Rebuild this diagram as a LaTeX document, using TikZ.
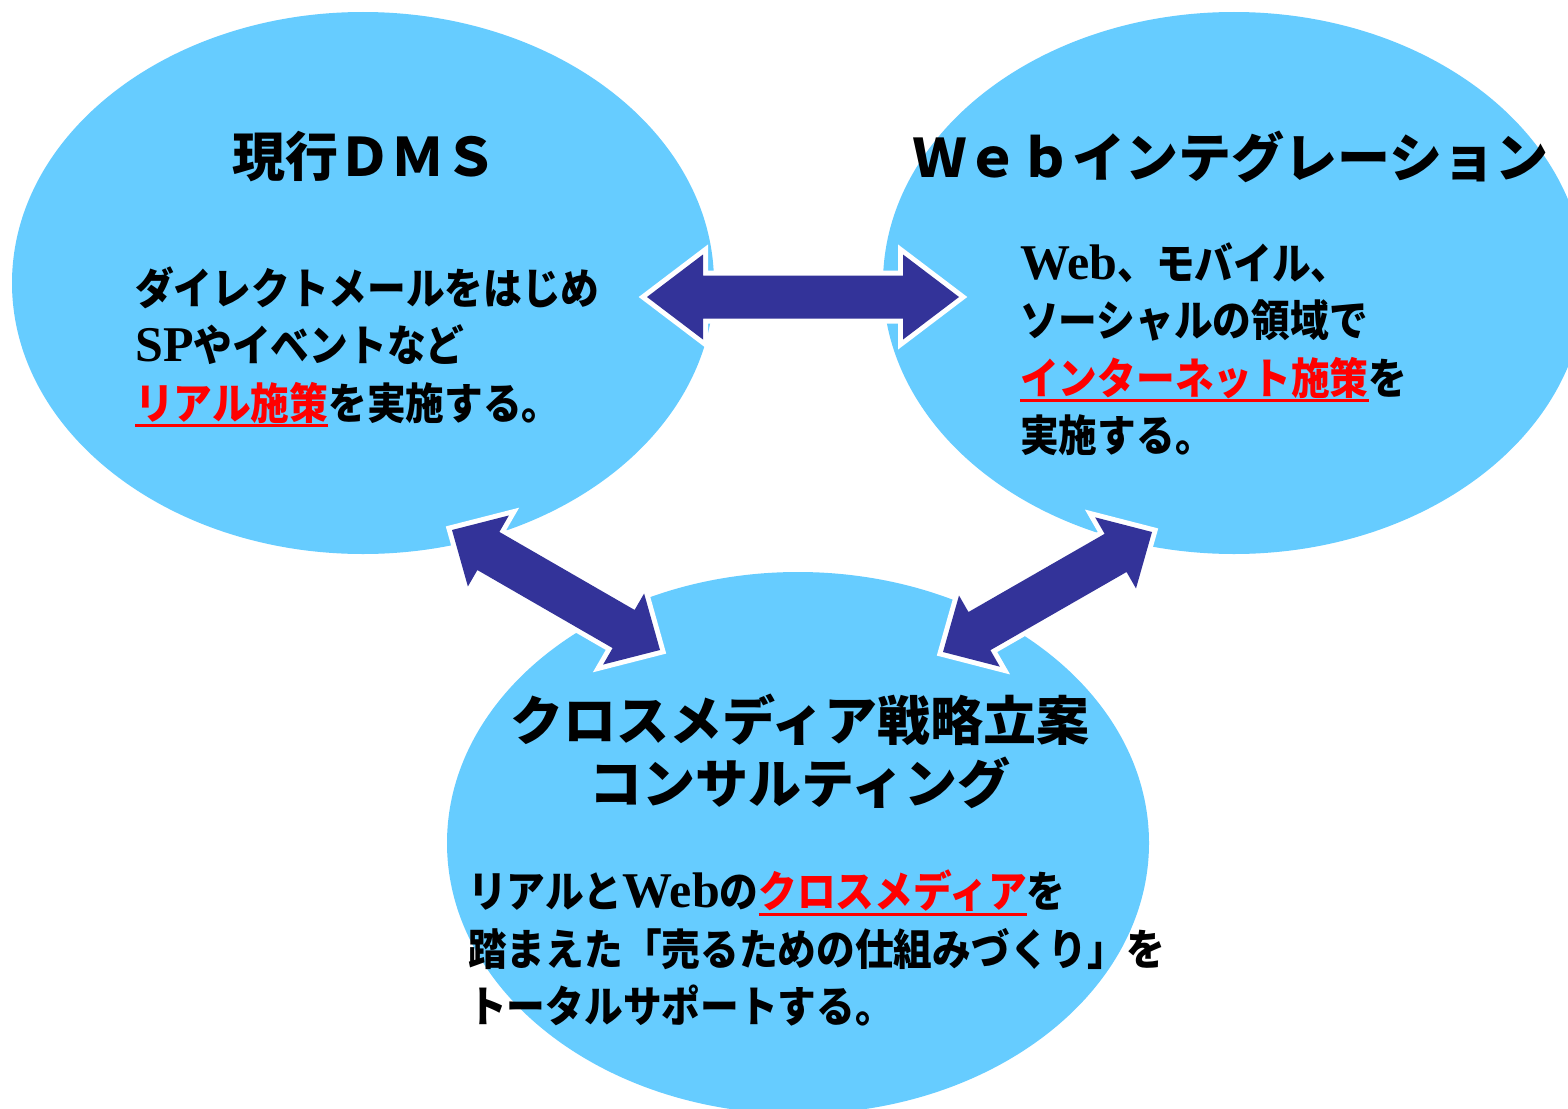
\documentclass[tikz,border=0pt]{standalone}
\usepackage{fontspec}
\usetikzlibrary{shapes.geometric,calc}
\newfontfamily\jp{Noto Sans CJK JP Black}
\newfontfamily\jpb{Noto Sans CJK JP Black}[FakeStretch=0.9]
\newfontfamily\lat{Liberation Serif}
\definecolor{skyfill}{HTML}{66CCFF}
\definecolor{arrowblue}{HTML}{333399}
\definecolor{ulred}{HTML}{FF0000}
\newcommand\LW[1]{{\lat\bfseries\fontsize{50}{57.5}\selectfont #1}}
\newcommand\redul[1]{{\color{ulred}\setbox0\hbox{#1}\rlap{\rule[-8pt]{\wd0}{3pt}}\box0}}
% #1 start, #2 end, #3 head length, #4 head half width, #5 shaft half width
\newcommand\fatdblarrow[5]{%
  \coordinate (pa) at ($(#1)!#3!(#2)$);
  \coordinate (pb) at ($(#2)!#3!(#1)$);
  \path[bigarrow] (#1) -- ($(pa)!#4!90:(#1)$) -- ($(pa)!#5!90:(#1)$)
    -- ($(pb)!#5!-90:(#2)$) -- ($(pb)!#4!-90:(#2)$) -- (#2)
    -- ($(pb)!#4!90:(#2)$) -- ($(pb)!#5!90:(#2)$)
    -- ($(pa)!#5!-90:(#1)$) -- ($(pa)!#4!-90:(#1)$) -- cycle;
}
\tikzset{
  blob/.style={ellipse, fill=skyfill, minimum width=702pt, minimum height=542pt, inner sep=0pt},
  ttl/.style={inner sep=0pt, font=\jp\fontsize{53}{63}\selectfont},
  body/.style={inner sep=0pt, align=left, anchor=west, font=\jpb\fontsize{43}{57.5}\selectfont},
  bigarrow/.style={fill=arrowblue, preaction={draw=white, line width=10pt, line join=miter}}
}
\begin{document}
\begin{tikzpicture}[x=1pt,y=-1pt]
\useasboundingbox (0,0) rectangle (1568,1108);
\clip (0,0) rectangle (1568,1108);
\fill[white] (0,0) rectangle (1568,1108);
% ellipses
\node[blob] (dms) at (363,283) {};
\node[blob] (web) at (1234,283) {};
\node[blob] (cross) at (798,843) {};
% titles
\node[ttl, anchor=west] (dmsT) at (232,157) {現行ＤＭＳ};
\node[ttl, anchor=west] (webT) at (913,157) {Ｗｅｂインテグレーション};
\node[ttl, align=center] (crossT) at (800,751.5) {クロスメディア戦略立案\\コンサルティング};
% body texts
\node[body] (dmsB) at (135,347) {ダイレクトメールをはじめ\\\LW{SP}やイベントなど\\\redul{リアル施策}を実施する。};
\node[body] (webB) at (1020,349) {\LW{Web}、モバイル、\\ソーシャルの領域で\\\redul{インターネット施策}を\\実施する。};
\node[body] (crossB) at (468,948) {リアルと\LW{Web}の\redul{クロスメディア}を\\踏まえた「売るための仕組みづくり」を\\トータルサポートする。};
% arrows
\coordinate (h1) at (647,297);
\coordinate (h2) at (959,297);
\coordinate (l1) at (452,530);
\coordinate (l2) at (660,650);
\coordinate (r1) at (1152,532);
\coordinate (r2) at (943,652);
\fatdblarrow{h1}{h2}{56pt}{42.5pt}{21.5pt}
\fatdblarrow{l1}{l2}{42pt}{41pt}{22pt}
\fatdblarrow{r1}{r2}{42pt}{41pt}{22pt}
\end{tikzpicture}
\end{document}
